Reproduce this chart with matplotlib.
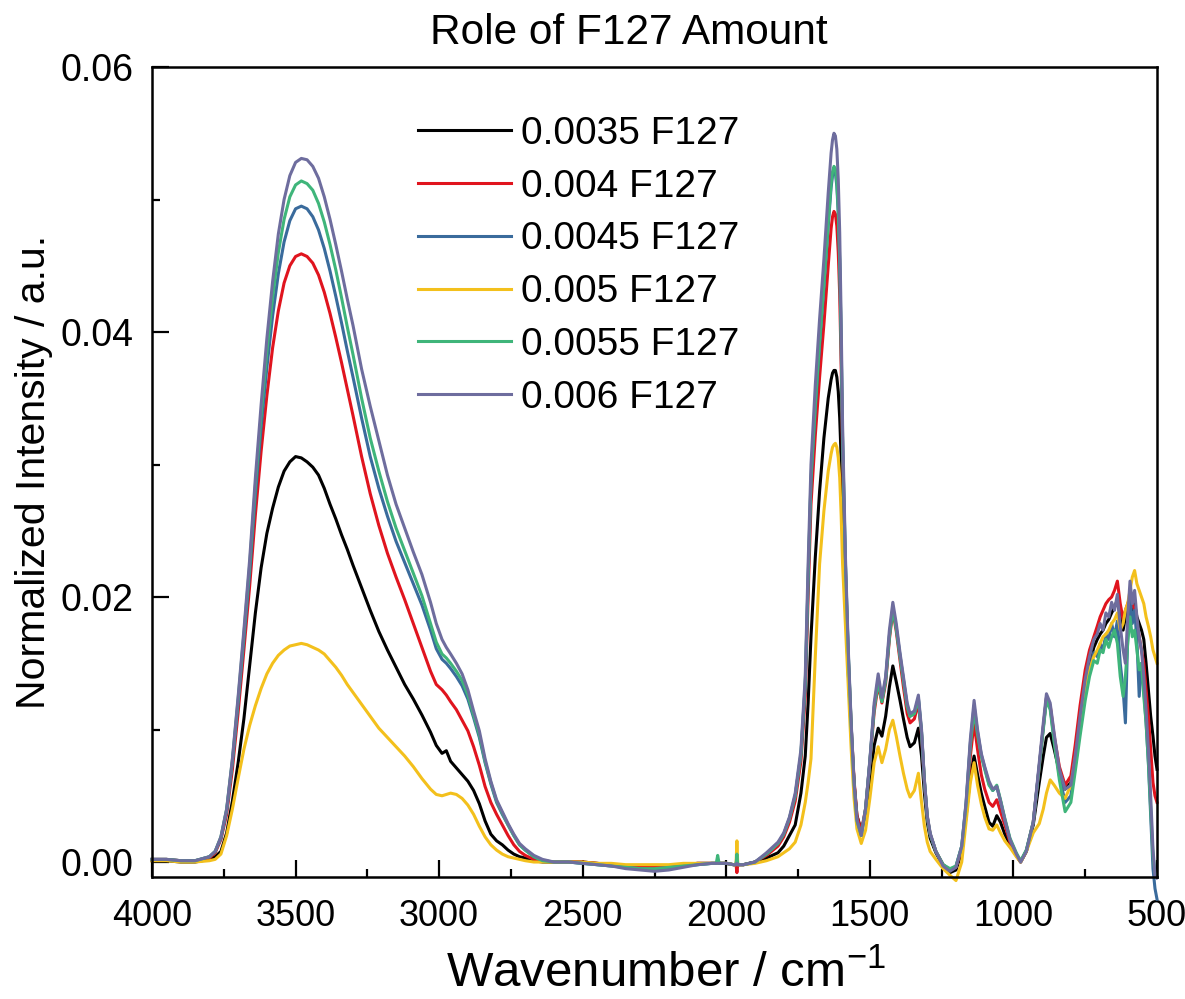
import matplotlib
matplotlib.use("Agg")
import matplotlib.pyplot as plt
from matplotlib.ticker import MultipleLocator, FormatStrFormatter

plt.rcParams['font.family'] = ['Liberation Sans', 'DejaVu Sans']
plt.rcParams['mathtext.fontset'] = 'custom'
plt.rcParams['mathtext.rm'] = 'Liberation Sans'
plt.rcParams['mathtext.default'] = 'regular'

# ---------------- data ----------------
wavenumber = [
    4000, 3950, 3900, 3850, 3800,
    3780, 3760, 3740, 3720, 3700,
    3680, 3660, 3640, 3620, 3600,
    3580, 3560, 3540, 3520, 3500,
    3480, 3460, 3440, 3420, 3400,
    3380, 3360, 3340, 3320, 3300,
    3270, 3240, 3210, 3180, 3150,
    3120, 3090, 3060, 3030, 3010,
    2990, 2975, 2960, 2940, 2920,
    2900, 2880, 2860, 2840, 2820,
    2800, 2780, 2760, 2740, 2720,
    2700, 2670, 2640, 2600, 2550,
    2500, 2450, 2400, 2350, 2300,
    2250, 2200, 2150, 2100, 2050,
    2035, 2030, 2025, 2000, 1975,
    1966, 1963, 1960, 1940, 1900,
    1860, 1820, 1800, 1780, 1760,
    1740, 1725, 1715, 1705, 1690,
    1675, 1660, 1645, 1635, 1630,
    1625, 1620, 1615, 1610, 1605,
    1600, 1595, 1585, 1575,
    1565, 1555, 1545, 1530, 1515,
    1500, 1485, 1471, 1458, 1445,
    1432, 1420, 1408, 1395, 1383,
    1370, 1360, 1345, 1331, 1320,
    1310, 1300, 1290, 1270, 1245,
    1221, 1200, 1180, 1165, 1150,
    1137, 1125, 1112, 1100, 1085,
    1072, 1058, 1045, 1030, 1012,
    990, 975, 955, 931, 910,
    896, 885, 872, 858, 840,
    820, 800, 785, 768, 750,
    735, 720, 708, 698, 688,
    678, 668, 658, 648, 638,
    628, 618, 610, 602, 594,
    586, 578, 570, 562, 554,
    546, 538, 530, 522, 514,
    507, 500,
]

f127_0035 = [
    0.0001, 0.0001, 0.0000, 0.0000, 0.0002,
    0.0004, 0.0008, 0.0022, 0.0046, 0.0075,
    0.0108, 0.0148, 0.0188, 0.0222, 0.0248,
    0.0267, 0.0283, 0.0295, 0.0302, 0.0306,
    0.0305, 0.0302, 0.0298, 0.0292, 0.0282,
    0.0270, 0.0259, 0.0247, 0.0236, 0.0224,
    0.0207, 0.0190, 0.0174, 0.0160, 0.0147,
    0.0134, 0.0123, 0.0111, 0.0098, 0.0088,
    0.0082, 0.0084, 0.0076, 0.0071, 0.0066,
    0.0061, 0.0054, 0.0044, 0.0031, 0.0021,
    0.0016, 0.0013, 0.0009, 0.0006, 0.0004,
    0.0003, 0.0001, 0.0000, 0.0000, 0.0000,
    0.0000, -0.0001, -0.0002, -0.0003, -0.0004,
    -0.0004, -0.0003, -0.0002, -0.0001, -0.0001,
    -0.0001, -0.0001, -0.0001, -0.0001, -0.0002,
    -0.0002, 0.0002, -0.0002, -0.0002, 0.0000,
    0.0003, 0.0007, 0.0012, 0.0020, 0.0028,
    0.0052, 0.0080, 0.0120, 0.0170, 0.0230,
    0.0280, 0.0320, 0.0350, 0.0364, 0.0369,
    0.0371, 0.0371, 0.0366, 0.0355, 0.0335,
    0.0305, 0.0262, 0.0195, 0.0142,
    0.0098, 0.0060, 0.0035, 0.0024, 0.0036,
    0.0060, 0.0088, 0.0101, 0.0095, 0.0110,
    0.0132, 0.0148, 0.0136, 0.0122, 0.0108,
    0.0094, 0.0087, 0.0090, 0.0101, 0.0080,
    0.0052, 0.0030, 0.0018, 0.0007, -0.0003,
    -0.0008, -0.0006, 0.0008, 0.0034, 0.0065,
    0.0080, 0.0066, 0.0052, 0.0042, 0.0030,
    0.0027, 0.0035, 0.0030, 0.0021, 0.0013,
    0.0005, 0.0000, 0.0008, 0.0028, 0.0060,
    0.0080, 0.0094, 0.0097, 0.0085, 0.0068,
    0.0055, 0.0060, 0.0080, 0.0108, 0.0135,
    0.0150, 0.0162, 0.0168, 0.0172, 0.0175,
    0.0180, 0.0183, 0.0188, 0.0192, 0.0198,
    0.0185, 0.0175, 0.0185, 0.0190, 0.0200,
    0.0190, 0.0195, 0.0185, 0.0180, 0.0175,
    0.0168, 0.0150, 0.0130, 0.0110, 0.0095,
    0.0080, 0.0070,
]

f127_0040 = [
    0.0002, 0.0002, 0.0001, 0.0001, 0.0003,
    0.0007, 0.0017, 0.0036, 0.0070, 0.0113,
    0.0160, 0.0208, 0.0262, 0.0310, 0.0352,
    0.0388, 0.0416, 0.0437, 0.0450, 0.0457,
    0.0459, 0.0457, 0.0452, 0.0443, 0.0430,
    0.0414, 0.0396, 0.0377, 0.0357, 0.0337,
    0.0306, 0.0278, 0.0254, 0.0233, 0.0215,
    0.0198, 0.0180, 0.0162, 0.0144, 0.0134,
    0.0130, 0.0126, 0.0121, 0.0115, 0.0107,
    0.0099, 0.0087, 0.0073, 0.0057, 0.0045,
    0.0036, 0.0028, 0.0020, 0.0013, 0.0008,
    0.0005, 0.0002, 0.0001, 0.0000, 0.0000,
    0.0000, -0.0001, -0.0002, -0.0003, -0.0004,
    -0.0004, -0.0003, -0.0002, -0.0001, -0.0001,
    -0.0001, -0.0001, -0.0001, -0.0001, -0.0002,
    -0.0002, -0.0008, -0.0002, -0.0002, 0.0000,
    0.0005, 0.0012, 0.0019, 0.0030, 0.0046,
    0.0076, 0.0125, 0.0200, 0.0270, 0.0322,
    0.0366, 0.0406, 0.0450, 0.0478, 0.0487,
    0.0491, 0.0489, 0.0480, 0.0460, 0.0428,
    0.0375, 0.0305, 0.0218, 0.0153,
    0.0102, 0.0062, 0.0035, 0.0023, 0.0040,
    0.0075, 0.0113, 0.0134, 0.0120, 0.0135,
    0.0168, 0.0190, 0.0174, 0.0152, 0.0132,
    0.0112, 0.0105, 0.0108, 0.0120, 0.0096,
    0.0060, 0.0034, 0.0021, 0.0008, -0.0002,
    -0.0006, -0.0004, 0.0010, 0.0040, 0.0080,
    0.0105, 0.0085, 0.0066, 0.0055, 0.0045,
    0.0042, 0.0047, 0.0038, 0.0028, 0.0015,
    0.0005, 0.0000, 0.0008, 0.0030, 0.0072,
    0.0102, 0.0124, 0.0118, 0.0095, 0.0072,
    0.0058, 0.0065, 0.0088, 0.0118, 0.0145,
    0.0160, 0.0170, 0.0178, 0.0185, 0.0190,
    0.0195, 0.0198, 0.0200, 0.0205, 0.0212,
    0.0195, 0.0183, 0.0190, 0.0195, 0.0200,
    0.0195, 0.0190, 0.0180, 0.0170, 0.0160,
    0.0150, 0.0130, 0.0110, 0.0085, 0.0060,
    0.0050, 0.0045,
]

f127_0045 = [
    0.0002, 0.0002, 0.0001, 0.0001, 0.0004,
    0.0008, 0.0018, 0.0039, 0.0075, 0.0120,
    0.0168, 0.0218, 0.0277, 0.0328, 0.0373,
    0.0412, 0.0444, 0.0468, 0.0484, 0.0493,
    0.0495, 0.0493, 0.0487, 0.0477, 0.0463,
    0.0446, 0.0427, 0.0407, 0.0386, 0.0366,
    0.0335, 0.0306, 0.0282, 0.0261, 0.0242,
    0.0226, 0.0210, 0.0194, 0.0175, 0.0161,
    0.0153, 0.0150, 0.0146, 0.0140, 0.0133,
    0.0123, 0.0109, 0.0094, 0.0075, 0.0059,
    0.0045, 0.0036, 0.0028, 0.0020, 0.0013,
    0.0009, 0.0004, 0.0001, 0.0000, 0.0000,
    -0.0001, -0.0002, -0.0003, -0.0004, -0.0005,
    -0.0006, -0.0005, -0.0003, -0.0002, -0.0001,
    -0.0001, -0.0001, -0.0001, -0.0001, -0.0002,
    -0.0002, 0.0003, -0.0002, -0.0002, 0.0000,
    0.0006, 0.0014, 0.0021, 0.0033, 0.0050,
    0.0081, 0.0133, 0.0212, 0.0287, 0.0342,
    0.0390, 0.0433, 0.0480, 0.0509, 0.0518,
    0.0522, 0.0520, 0.0510, 0.0489, 0.0452,
    0.0392, 0.0316, 0.0224, 0.0156,
    0.0103, 0.0059, 0.0031, 0.0020, 0.0040,
    0.0076, 0.0117, 0.0138, 0.0122, 0.0138,
    0.0171, 0.0192, 0.0177, 0.0156, 0.0138,
    0.0118, 0.0110, 0.0112, 0.0124, 0.0098,
    0.0061, 0.0034, 0.0021, 0.0008, -0.0002,
    -0.0006, -0.0003, 0.0012, 0.0044, 0.0090,
    0.0118, 0.0098, 0.0081, 0.0071, 0.0059,
    0.0054, 0.0057, 0.0046, 0.0032, 0.0017,
    0.0006, 0.0000, 0.0009, 0.0030, 0.0073,
    0.0102, 0.0124, 0.0117, 0.0092, 0.0065,
    0.0045, 0.0050, 0.0072, 0.0100, 0.0128,
    0.0145, 0.0158, 0.0155, 0.0165, 0.0160,
    0.0172, 0.0168, 0.0180, 0.0170, 0.0182,
    0.0150, 0.0130, 0.0105, 0.0170, 0.0200,
    0.0180, 0.0190, 0.0168, 0.0125, 0.0150,
    0.0130, 0.0105, 0.0075, 0.0035, -0.0005,
    -0.0020, -0.0028,
]

f127_0050 = [
    0.0001, 0.0001, 0.0000, 0.0000, 0.0001,
    0.0002, 0.0006, 0.0020, 0.0040, 0.0063,
    0.0085, 0.0103, 0.0118, 0.0131, 0.0142,
    0.0150, 0.0156, 0.0160, 0.0163, 0.0164,
    0.0165, 0.0164, 0.0162, 0.0160, 0.0157,
    0.0152, 0.0147, 0.0141, 0.0134, 0.0128,
    0.0119, 0.0110, 0.0101, 0.0094, 0.0087,
    0.0080, 0.0072, 0.0063, 0.0055, 0.0051,
    0.0050, 0.0051, 0.0052, 0.0051, 0.0048,
    0.0043, 0.0036, 0.0027, 0.0019, 0.0013,
    0.0009, 0.0006, 0.0004, 0.0003, 0.0002,
    0.0001, 0.0000, 0.0000, 0.0000, 0.0000,
    0.0000, -0.0001, -0.0001, -0.0002, -0.0002,
    -0.0002, -0.0002, -0.0001, -0.0001, -0.0001,
    -0.0001, -0.0001, -0.0001, -0.0001, -0.0002,
    -0.0002, 0.0016, -0.0002, -0.0002, -0.0001,
    0.0001, 0.0004, 0.0007, 0.0010, 0.0015,
    0.0028, 0.0045, 0.0060, 0.0078, 0.0155,
    0.0225, 0.0265, 0.0295, 0.0308, 0.0313,
    0.0315, 0.0316, 0.0313, 0.0305, 0.0290,
    0.0262, 0.0225, 0.0178, 0.0130,
    0.0085, 0.0048, 0.0025, 0.0014, 0.0024,
    0.0048, 0.0075, 0.0087, 0.0075, 0.0085,
    0.0100, 0.0107, 0.0095, 0.0080, 0.0067,
    0.0055, 0.0049, 0.0054, 0.0067, 0.0045,
    0.0027, 0.0015, 0.0008, 0.0002, -0.0005,
    -0.0010, -0.0014, 0.0000, 0.0030, 0.0060,
    0.0075, 0.0058, 0.0044, 0.0034, 0.0025,
    0.0024, 0.0028, 0.0022, 0.0016, 0.0011,
    0.0004, 0.0000, 0.0008, 0.0022, 0.0029,
    0.0040, 0.0052, 0.0062, 0.0058, 0.0052,
    0.0048, 0.0058, 0.0078, 0.0105, 0.0130,
    0.0145, 0.0155, 0.0160, 0.0165, 0.0170,
    0.0172, 0.0175, 0.0180, 0.0183, 0.0188,
    0.0175, 0.0180, 0.0190, 0.0195, 0.0205,
    0.0215, 0.0220, 0.0210, 0.0205, 0.0200,
    0.0195, 0.0185, 0.0178, 0.0170, 0.0160,
    0.0155, 0.0150,
]

f127_0055 = [
    0.0002, 0.0002, 0.0001, 0.0001, 0.0004,
    0.0008, 0.0019, 0.0040, 0.0077, 0.0123,
    0.0172, 0.0224, 0.0284, 0.0337, 0.0385,
    0.0426, 0.0460, 0.0485, 0.0502, 0.0511,
    0.0514, 0.0512, 0.0507, 0.0497, 0.0483,
    0.0466, 0.0447, 0.0426, 0.0404, 0.0383,
    0.0350, 0.0320, 0.0295, 0.0272, 0.0252,
    0.0235, 0.0218, 0.0201, 0.0180, 0.0166,
    0.0157, 0.0154, 0.0150, 0.0144, 0.0137,
    0.0126, 0.0111, 0.0096, 0.0076, 0.0060,
    0.0046, 0.0037, 0.0028, 0.0020, 0.0013,
    0.0009, 0.0004, 0.0001, 0.0000, 0.0000,
    -0.0001, -0.0002, -0.0003, -0.0004, -0.0005,
    -0.0005, -0.0004, -0.0003, -0.0002, -0.0001,
    -0.0001, 0.0005, -0.0001, -0.0001, -0.0002,
    -0.0002, 0.0006, -0.0002, -0.0002, 0.0000,
    0.0006, 0.0014, 0.0021, 0.0033, 0.0050,
    0.0082, 0.0135, 0.0215, 0.0290, 0.0345,
    0.0393, 0.0436, 0.0483, 0.0512, 0.0521,
    0.0525, 0.0523, 0.0513, 0.0492, 0.0455,
    0.0395, 0.0320, 0.0225, 0.0157,
    0.0103, 0.0059, 0.0031, 0.0020, 0.0040,
    0.0076, 0.0116, 0.0136, 0.0121, 0.0137,
    0.0170, 0.0191, 0.0176, 0.0155, 0.0137,
    0.0117, 0.0110, 0.0112, 0.0123, 0.0098,
    0.0061, 0.0034, 0.0021, 0.0008, -0.0002,
    -0.0005, -0.0003, 0.0012, 0.0043, 0.0088,
    0.0114, 0.0096, 0.0080, 0.0070, 0.0058,
    0.0054, 0.0058, 0.0047, 0.0033, 0.0018,
    0.0007, 0.0001, 0.0009, 0.0030, 0.0072,
    0.0100, 0.0122, 0.0115, 0.0090, 0.0062,
    0.0038, 0.0045, 0.0068, 0.0095, 0.0122,
    0.0140, 0.0152, 0.0150, 0.0160, 0.0158,
    0.0168, 0.0162, 0.0170, 0.0175, 0.0165,
    0.0140, 0.0125, 0.0140, 0.0165, 0.0185,
    0.0170, 0.0175, 0.0160, 0.0145, 0.0150,
    0.0125, 0.0105, 0.0075, 0.0040, 0.0005,
    -0.0008, -0.0011,
]

f127_0060 = [
    0.0002, 0.0002, 0.0001, 0.0001, 0.0004,
    0.0008, 0.0019, 0.0040, 0.0078, 0.0125,
    0.0175, 0.0228, 0.0290, 0.0345, 0.0395,
    0.0438, 0.0474, 0.0500, 0.0518, 0.0528,
    0.0531, 0.0530, 0.0525, 0.0516, 0.0502,
    0.0485, 0.0466, 0.0446, 0.0425, 0.0405,
    0.0372, 0.0344, 0.0318, 0.0292, 0.0270,
    0.0252, 0.0234, 0.0217, 0.0196, 0.0180,
    0.0168, 0.0162, 0.0157, 0.0150, 0.0142,
    0.0130, 0.0114, 0.0099, 0.0078, 0.0061,
    0.0047, 0.0038, 0.0029, 0.0021, 0.0014,
    0.0010, 0.0005, 0.0002, 0.0000, 0.0000,
    -0.0001, -0.0002, -0.0003, -0.0005, -0.0006,
    -0.0007, -0.0006, -0.0004, -0.0002, -0.0001,
    -0.0001, -0.0001, -0.0001, -0.0001, -0.0002,
    -0.0002, -0.0001, -0.0002, -0.0002, 0.0000,
    0.0007, 0.0015, 0.0022, 0.0034, 0.0052,
    0.0085, 0.0140, 0.0225, 0.0300, 0.0360,
    0.0410, 0.0455, 0.0505, 0.0535, 0.0545,
    0.0550, 0.0548, 0.0538, 0.0515, 0.0475,
    0.0410, 0.0330, 0.0230, 0.0160,
    0.0105, 0.0060, 0.0032, 0.0020, 0.0040,
    0.0077, 0.0120, 0.0142, 0.0124, 0.0140,
    0.0175, 0.0196, 0.0180, 0.0158, 0.0140,
    0.0120, 0.0112, 0.0114, 0.0126, 0.0100,
    0.0062, 0.0035, 0.0022, 0.0008, -0.0003,
    -0.0007, -0.0004, 0.0012, 0.0045, 0.0093,
    0.0122, 0.0100, 0.0082, 0.0072, 0.0061,
    0.0055, 0.0057, 0.0046, 0.0032, 0.0017,
    0.0006, 0.0000, 0.0008, 0.0030, 0.0075,
    0.0105, 0.0127, 0.0120, 0.0097, 0.0070,
    0.0055, 0.0058, 0.0080, 0.0110, 0.0138,
    0.0155, 0.0168, 0.0172, 0.0180, 0.0175,
    0.0188, 0.0185, 0.0196, 0.0190, 0.0202,
    0.0178, 0.0160, 0.0150, 0.0185, 0.0212,
    0.0195, 0.0205, 0.0185, 0.0170, 0.0160,
    0.0140, 0.0115, 0.0085, 0.0050, 0.0010,
    -0.0010, -0.0012,
]

series_labels = ["0.0035 F127", "0.004 F127", "0.0045 F127",
                 "0.005 F127", "0.0055 F127", "0.006 F127"]
series_values = [f127_0035, f127_0040, f127_0045, f127_0050, f127_0055, f127_0060]
series_colors = ["#000000", "#e0141e", "#3a6b9c", "#f3c01c", "#3fb57a", "#6e6d9e"]

for s in series_values:
    assert len(s) == len(wavenumber), len(s)

x_ticks = [4000, 3500, 3000, 2500, 2000, 1500, 1000, 500]
y_ticks = [0.00, 0.02, 0.04, 0.06]

# ---------------- figure ----------------
W, H = 1185, 999
fig = plt.figure(figsize=(W / 100, H / 100), dpi=100)
ax = fig.add_axes([152 / W, 1 - 877 / H, (1157 - 152) / W, (877 - 67) / H])

for vals, lab, col in zip(series_values, series_labels, series_colors):
    ax.plot(wavenumber, vals, color=col, lw=2.2, label=lab, clip_on=False,
            solid_joinstyle='round')

ax.set_xlim(4000, 500)
ax.set_ylim(-0.00113, 0.06)
ax.set_xticks(x_ticks)
ax.set_yticks(y_ticks)
ax.xaxis.set_minor_locator(MultipleLocator(250))
ax.yaxis.set_minor_locator(MultipleLocator(0.01))
ax.yaxis.set_major_formatter(FormatStrFormatter('%.2f'))

ax.tick_params(which='both', direction='in', top=False, right=False, width=1.6)
ax.tick_params(which='major', length=12)
ax.tick_params(which='minor', length=6)
ax.tick_params(axis='x', which='major', pad=16, labelsize=26)
ax.tick_params(axis='y', which='major', pad=13, labelsize=27)
for sp in ax.spines.values():
    sp.set_linewidth(1.8)

fig.text(629 / W, 1 - 44 / H, "Role of F127 Amount", fontsize=30.5,
         ha='center', va='baseline')
ax.set_xlabel("Wavenumber / cm$^{-1}$", fontsize=35.5)
ax.xaxis.set_label_coords((666 - 152) / 1005, (877 - 950) / 810)
ax.set_ylabel("Normalized Intensity / a.u.", fontsize=29.5, labelpad=6)

leg = ax.legend(loc='upper left', bbox_to_anchor=(418 / W, 1 - 116 / H),
                bbox_transform=fig.transFigure, frameon=False, fontsize=28,
                handlelength=2.4, handletextpad=0.25, labelspacing=0.43,
                borderpad=0, borderaxespad=0)
for line in leg.get_lines():
    line.set_linewidth(2.2)

fig.savefig("out.png", dpi=100)
